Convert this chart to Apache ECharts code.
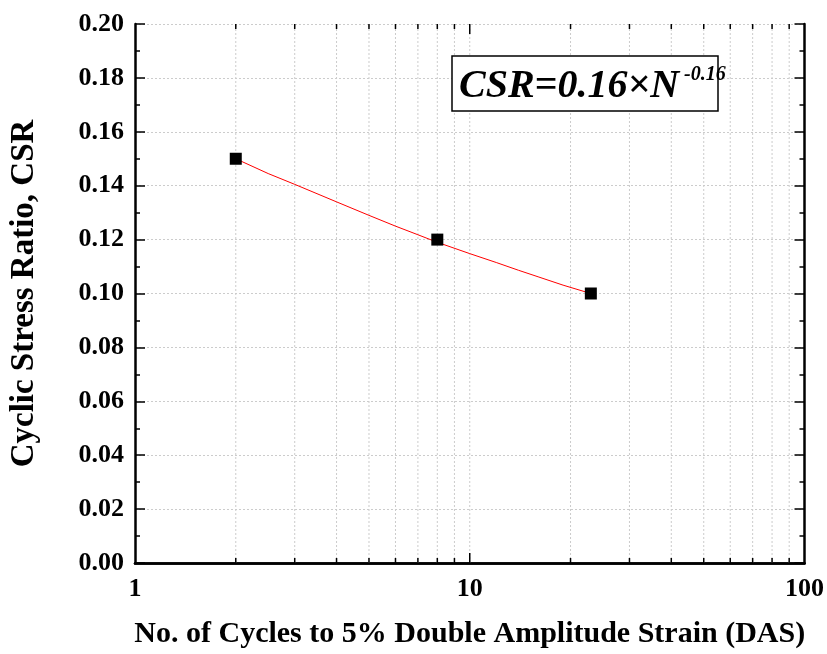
<!DOCTYPE html>
<html><head><meta charset="utf-8">
<script src="https://cdn.jsdelivr.net/npm/echarts@6/dist/echarts.min.js"></script>
<style>html,body{margin:0;padding:0;background:#fff}#c{width:827px;height:654px}</style>
</head><body><div id="c"></div>
<script>
// Data
var cycles = [2, 8, 23];
var csr = [0.150, 0.120, 0.100];
var fitN = [2, 2.5, 3, 4, 5, 6, 7, 8, 10, 12, 14, 16, 19, 23];
var fitCSR = [0.150, 0.1445, 0.1405, 0.1340, 0.1290, 0.1250, 0.1218, 0.1190, 0.1148, 0.1115, 0.1086, 0.1062, 0.1031, 0.1000];
var xMajorTicks = [1, 10, 100];
var xMinorTicks = [2, 3, 4, 5, 6, 7, 8, 9, 20, 30, 40, 50, 60, 70, 80, 90];
var xLabel = 'No. of Cycles to 5% Double Amplitude Strain (DAS)';
var yLabel = 'Cyclic Stress Ratio, CSR';
var eqMain = 'CSR=0.16×N';
var eqExp = '-0.16';

var FONT = '"Liberation Serif","Times New Roman",serif';
var chart = echarts.init(document.getElementById('c'));

function vGridAndTicks(params, api) {
  var v = api.value(0);
  var major = api.value(1);
  var bot = api.coord([v, 0]);
  var top = api.coord([v, 0.2]);
  var len = major ? 10 : 5;
  var children = [];
  if (v > 1 && v < 100) {
    children.push({type: 'line', shape: {x1: bot[0], y1: bot[1], x2: top[0], y2: top[1]},
      style: {stroke: '#cccccc', lineWidth: 1, lineDash: [2, 2]}});
    children.push({type: 'line', shape: {x1: bot[0], y1: bot[1], x2: bot[0], y2: bot[1] - len},
      style: {stroke: '#000', lineWidth: 1.5}});
    children.push({type: 'line', shape: {x1: top[0], y1: top[1], x2: top[0], y2: top[1] + len},
      style: {stroke: '#000', lineWidth: 1.5}});
  }
  return {type: 'group', children: children, silent: true};
}

var tickData = xMajorTicks.map(function (v) { return [v, 1]; })
  .concat(xMinorTicks.map(function (v) { return [v, 0]; }));

chart.setOption({
  backgroundColor: '#fff',
  animation: false,
  grid: {left: 133, right: 22, top: 24, bottom: 90},
  xAxis: [{
    type: 'log', logBase: 10, min: 1, max: 100,
    name: xLabel, nameLocation: 'middle', nameGap: 56,
    nameTextStyle: {fontFamily: FONT, fontWeight: 'bold', fontSize: 30, color: '#000'},
    axisLine: {lineStyle: {color: '#000', width: 2.5}},
    axisTick: {show: false},
    axisLabel: {fontFamily: FONT, fontWeight: 'bold', fontSize: 26, color: '#000', margin: 13},
    splitLine: {show: false}
  }, {
    type: 'log', logBase: 10, min: 1, max: 100, position: 'top',
    axisLine: {lineStyle: {color: '#000', width: 2.5}},
    axisTick: {show: false}, axisLabel: {show: false}, splitLine: {show: false}
  }],
  yAxis: [{
    type: 'value', min: 0, max: 0.2, interval: 0.02,
    name: yLabel, nameLocation: 'middle', nameGap: 94, nameRotate: 90,
    nameTextStyle: {fontFamily: FONT, fontWeight: 'bold', fontSize: 33, color: '#000'},
    axisLine: {show: true, lineStyle: {color: '#000', width: 2.5}},
    axisTick: {show: true, inside: true, length: 10, lineStyle: {color: '#000', width: 1.5}},
    minorTick: {show: true, splitNumber: 2, length: 5, lineStyle: {color: '#000', width: 1.5}},
    axisLabel: {fontFamily: FONT, fontWeight: 'bold', fontSize: 26, color: '#000', margin: 11,
      formatter: function (v) { return v.toFixed(2); }},
    splitLine: {show: true, lineStyle: {color: '#cccccc', type: [2, 2], width: 1}}
  }, {
    type: 'value', min: 0, max: 0.2, interval: 0.02, position: 'right',
    axisLine: {show: true, lineStyle: {color: '#000', width: 2.5}},
    axisTick: {show: true, inside: true, length: 10, lineStyle: {color: '#000', width: 1.5}},
    minorTick: {show: true, splitNumber: 2, length: 5, lineStyle: {color: '#000', width: 1.5}},
    axisLabel: {show: false}, splitLine: {show: false}
  }],
  graphic: [{
    type: 'rect', shape: {x: 452, y: 56, width: 266, height: 55}, z: 10,
    style: {fill: '#fff', stroke: '#000', lineWidth: 1.5}
  }, {
    type: 'text', z: 11,
    style: {x: 459, y: 87, text: eqMain, textAlign: 'left', textVerticalAlign: 'middle',
      align: 'left', verticalAlign: 'middle',
      font: 'italic bold 40px ' + FONT, fill: '#000'}
  }, {
    type: 'text', z: 11,
    style: {x: 684, y: 75, text: eqExp, textAlign: 'left', textVerticalAlign: 'middle',
      align: 'left', verticalAlign: 'middle',
      font: 'italic bold 20px ' + FONT, fill: '#000'}
  }],
  series: [{
    type: 'custom', xAxisIndex: 0, yAxisIndex: 0,
    renderItem: vGridAndTicks, data: tickData, z: 1, silent: true
  }, {
    type: 'line', data: fitN.map(function (n, i) { return [n, fitCSR[i]]; }),
    smooth: false, symbol: 'none', lineStyle: {color: '#ff0000', width: 1}, z: 3
  }, {
    type: 'scatter', data: cycles.map(function (n, i) { return [n, csr[i]]; }),
    symbol: 'rect', symbolSize: 12, itemStyle: {color: '#000', opacity: 1}, z: 4
  }]
});
</script></body></html>
